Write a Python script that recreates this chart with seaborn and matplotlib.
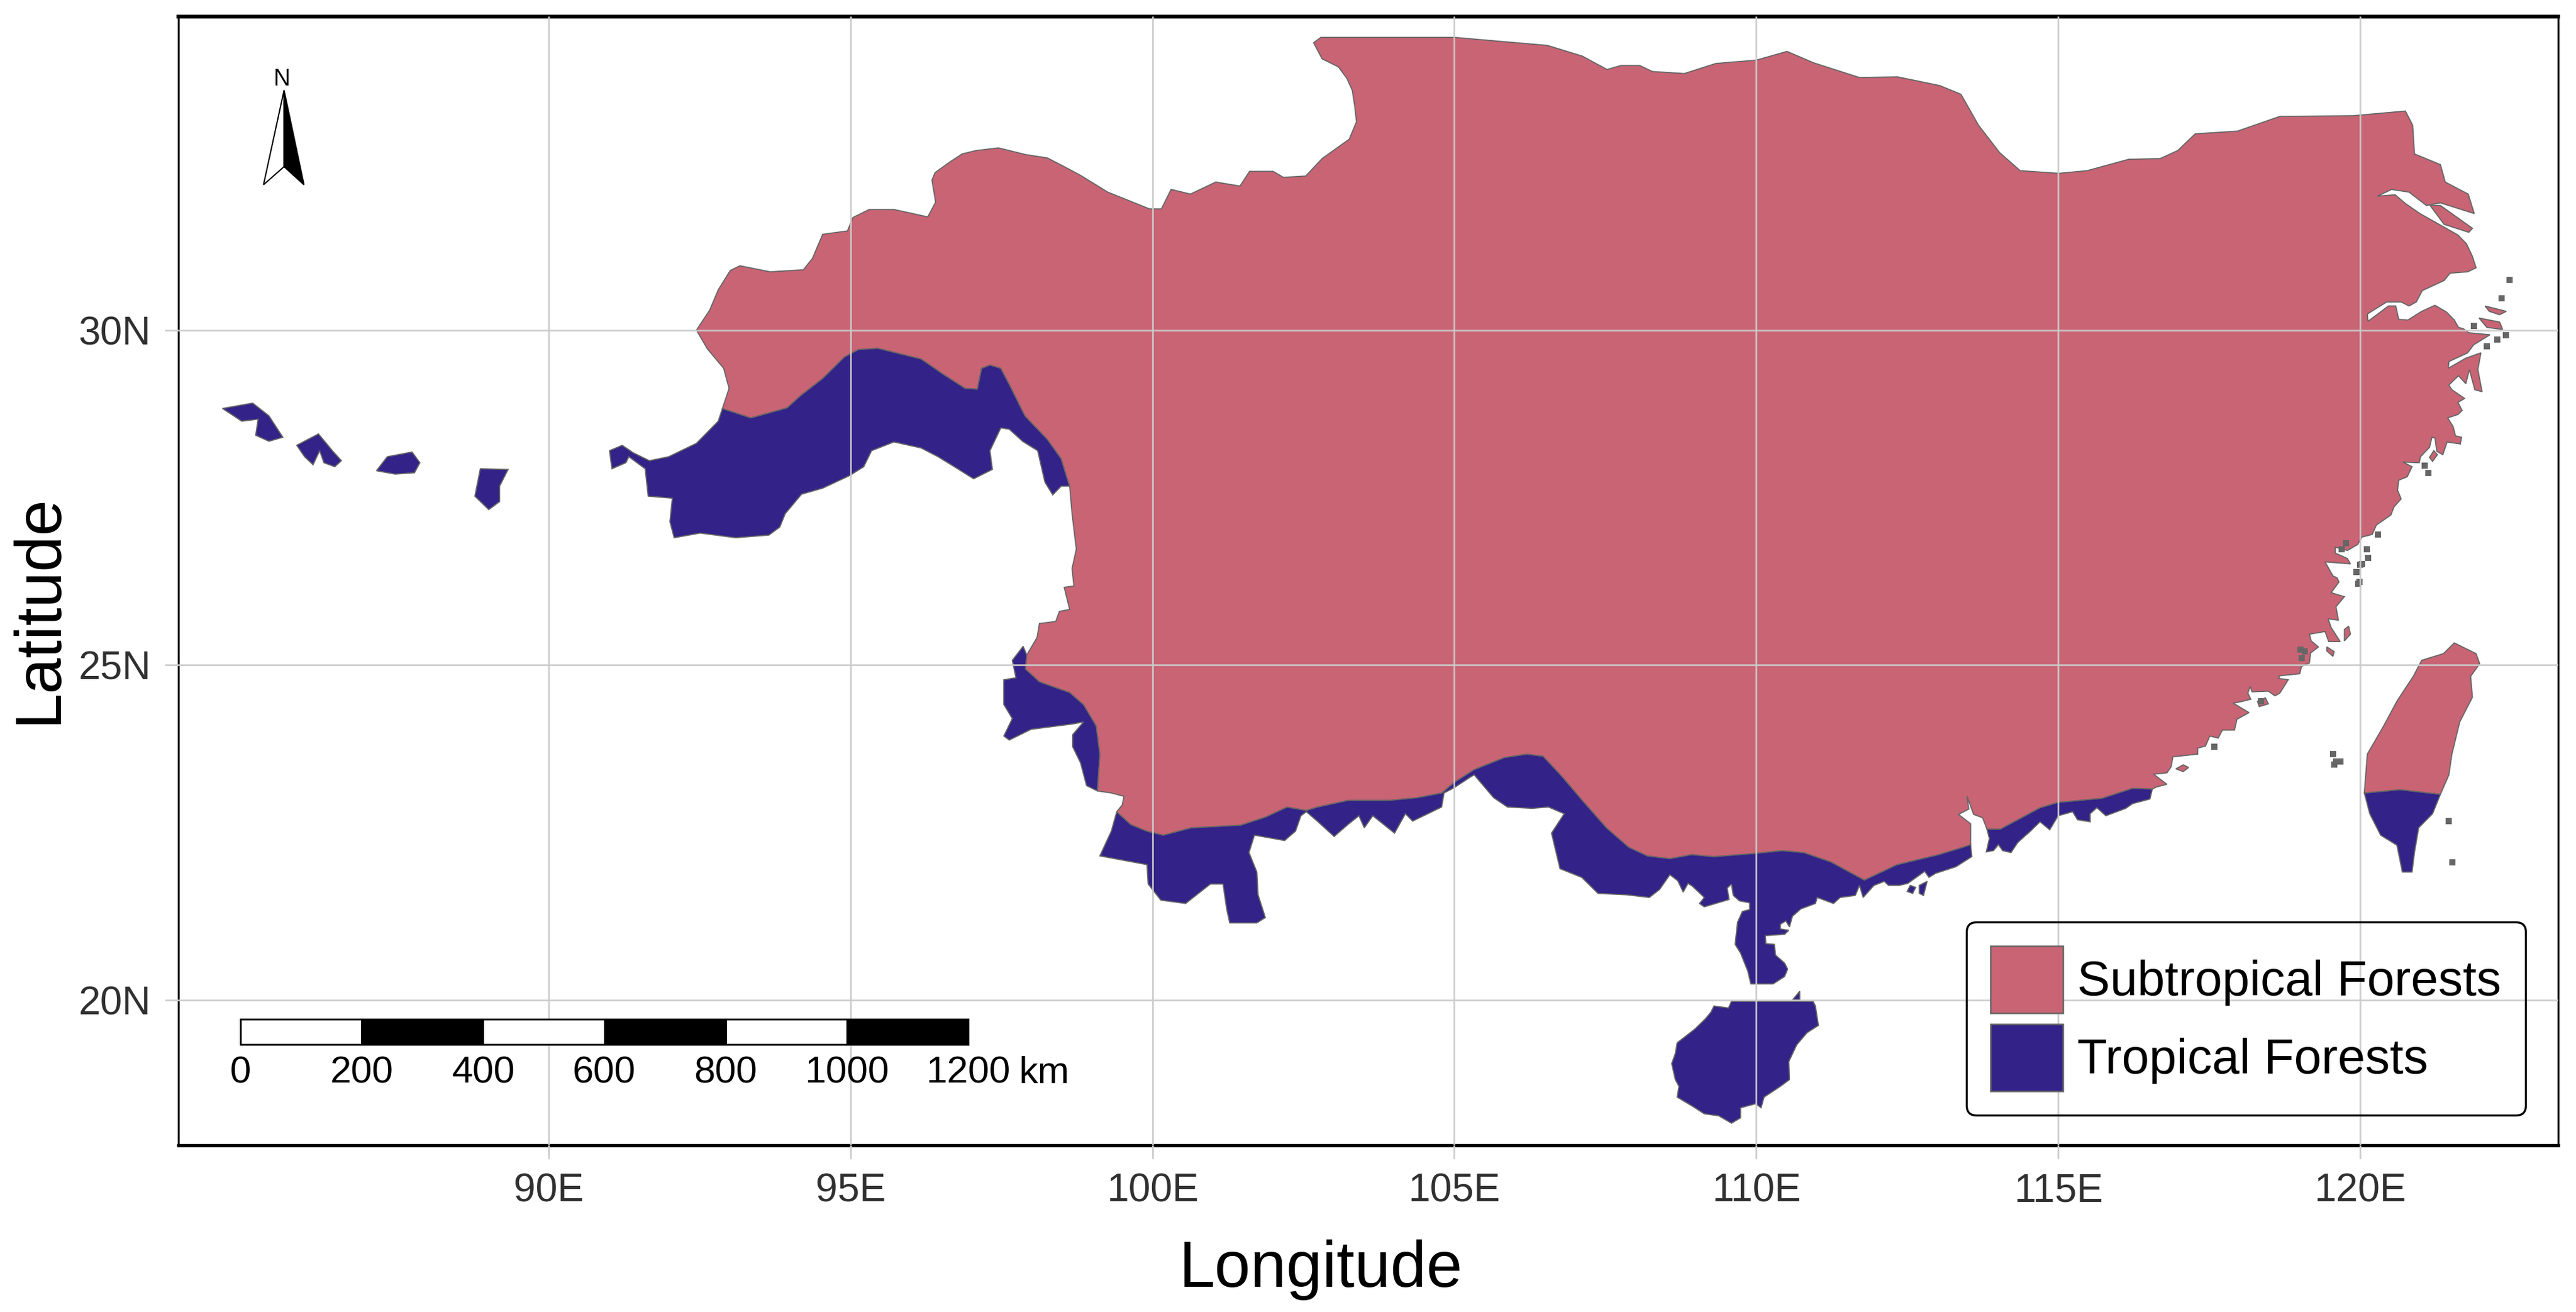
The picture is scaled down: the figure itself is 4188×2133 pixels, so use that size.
import matplotlib
matplotlib.use("Agg")
import matplotlib.pyplot as plt
from matplotlib.patches import Patch
import seaborn as sns

# outlines, (lon, lat)
subtropical_main = [
    (92.45,30.00),(92.67,30.30),(92.81,30.60),(93.01,30.89),(93.17,30.96),(93.67,30.87),(94.22,30.90),
    (94.37,31.07),(94.54,31.43),(94.95,31.48),(95.04,31.68),(95.31,31.80),(95.72,31.80),(96.28,31.69),
    (96.41,31.91),(96.35,32.24),(96.40,32.35),(96.63,32.50),(96.85,32.63),(97.08,32.68),(97.45,32.72),
    (97.90,32.62),(98.26,32.57),(98.54,32.44),(98.81,32.31),(99.26,32.06),
    (99.95,31.81),(100.15,31.81),(100.31,32.10),(100.63,32.03),(101.05,32.21),(101.45,32.15),(101.61,32.37),
    (102.00,32.37),(102.17,32.28),(102.54,32.30),(102.81,32.56),(103.26,32.85),(103.38,33.11),(103.35,33.35),
    (103.31,33.58),(103.22,33.76),(103.08,33.93),(102.81,34.05),(102.67,34.29),(102.79,34.37),(105.00,34.37),
    (105.38,34.34),(106.54,34.25),
    (107.12,34.09),(107.53,33.89),(107.76,33.95),(108.07,33.95),(108.28,33.86),(108.81,33.83),(109.33,33.98),
    (110.00,34.03),(110.51,34.16),(110.95,33.99),(111.71,33.77),(112.34,33.78),(113.04,33.65),(113.39,33.52),
    (113.68,33.06),(114.03,32.65),(114.37,32.38),(115.01,32.34),(115.48,32.38),(116.17,32.55),(116.69,32.56),
    (116.98,32.68),(117.27,32.93),(117.97,32.97),(118.67,33.19),(119.88,33.20),(120.75,33.27),(120.87,33.06),
    (120.90,32.63),(121.33,32.47),(121.41,32.21),(121.79,32.03),(121.89,31.74),(121.33,31.90),(121.10,31.86),
    (120.81,32.06),(120.52,32.10),(120.29,32.00),(120.58,32.02),(120.75,31.89),(120.99,31.74),(121.62,31.42),
    (121.76,31.29),(121.86,31.10),(121.92,30.93),(121.78,30.87),(121.49,30.85),(121.39,30.74),(121.03,30.59),
    (120.93,30.42),(120.81,30.36),(120.68,30.42),(120.44,30.42),(120.12,30.24),(120.13,30.13),(120.47,30.36),
    (120.59,30.36),(120.64,30.16),(120.79,30.15),(121.02,30.28),(121.24,30.37),(121.43,30.27),(121.56,30.15),
    (121.63,30.04),(121.71,30.02),(121.80,29.96),(122.15,29.93),(121.88,29.78),(121.78,29.66),(121.47,29.53),
    (121.46,29.43),(121.75,29.58),(122.00,29.66),(121.95,29.41),(122.02,29.08),(121.90,29.11),(121.81,29.41),
    (121.75,29.20),(121.63,29.32),(121.47,29.18),(121.52,29.11),(121.73,28.98),(121.62,28.92),(121.69,28.80),
    (121.62,28.74),(121.45,28.69),(121.54,28.56),(121.58,28.42),(121.68,28.40),(121.66,28.30),(121.44,28.33),
    (121.37,28.14),(121.27,28.19),(121.24,28.39),(121.19,28.40),(121.15,28.25),(121.00,28.11),(120.98,28.02),
    (120.71,28.03),(120.86,27.96),(120.78,27.81),(120.64,27.76),(120.62,27.61),(120.68,27.48),(120.56,27.36),
    (120.51,27.24),(120.27,27.09),(120.20,26.95),(120.03,26.91),(119.96,26.80),(119.79,26.71),(119.59,26.76),
    (119.59,26.67),(119.79,26.59),(119.84,26.51),(119.42,26.54),(119.55,26.33),(119.62,26.30),(119.65,26.24),
    (119.52,26.08),(119.74,26.02),(119.60,25.87),(119.64,25.67),(119.47,25.69),(119.52,25.56),(119.67,25.35),
    (119.48,25.35),(119.42,25.50),(119.16,25.46),(119.19,25.36),(119.31,25.27),(119.18,25.18),(119.16,25.03),
    (119.03,24.98),(119.00,24.87),(118.67,24.84),(118.65,24.80),(118.81,24.78),(118.67,24.58),(118.59,24.54),
    (118.48,24.61),(118.21,24.60),(118.18,24.68),(118.14,24.58),(118.19,24.49),(118.06,24.46),(117.90,24.43),
    (118.16,24.29),(117.96,24.19),(117.92,24.03),(117.72,24.03),(117.65,23.91),(117.51,23.94),(117.44,23.79),
    (117.31,23.76),(117.31,23.67),(116.90,23.63),(116.87,23.48),(116.80,23.39),(116.58,23.37),(116.80,23.22),
    (116.63,23.18),(116.56,23.15),(116.23,23.16),(115.72,23.01),(115.00,22.95),(114.70,22.87),(114.04,22.55),
    (113.82,22.55),(113.75,22.72),(113.60,22.77),(113.49,23.04),(113.52,22.85),(113.35,22.77),(113.55,22.63),
    (113.55,22.32),(113.42,22.28),(113.02,22.17),(112.33,22.02),(111.79,21.79),(111.24,22.06),(110.79,22.20),
    (110.43,22.23),
    (110.00,22.19),(109.30,22.14),(108.93,22.17),(108.57,22.11),(108.20,22.15),(107.89,22.28),(107.52,22.57),
    (107.11,22.99),(106.79,23.33),(106.47,23.64),(106.20,23.67),(105.83,23.62),(105.33,23.44),(105.00,23.25),
    (104.79,23.09),(104.38,23.02),(103.92,22.98),(103.24,22.98),(102.73,22.88),(102.55,22.83),(102.23,22.88),
    (101.87,22.73),(101.46,22.61),(100.64,22.57),(100.18,22.46),(99.91,22.52),(99.64,22.62),(99.41,22.81),
    (99.50,22.91),(99.53,23.04),(99.32,23.09),(99.09,23.12),(99.13,23.67),(99.07,24.09),(98.86,24.41),
    (98.63,24.59),(98.13,24.75),(97.90,24.94),(97.92,25.15),(98.09,25.41),(98.13,25.62),(98.40,25.65),
    (98.46,25.80),(98.63,25.83),(98.54,26.16),(98.70,26.18),(98.67,26.44),(98.74,26.73),(98.67,27.26),
    (98.63,27.67),(98.49,28.08),(98.26,28.37),(97.89,28.72),(97.63,29.19),(97.49,29.43),(97.31,29.48),
    (97.17,29.43),(97.10,29.12),(96.90,29.13),(96.54,29.34),(96.17,29.57),(95.81,29.65),(95.45,29.73),
    (95.13,29.71),(94.90,29.60),(94.54,29.28),(94.17,29.02),(93.95,28.84),(93.35,28.69),(92.88,28.83),
    (92.99,29.13),(92.90,29.43),(92.63,29.72),
]
chongming = [(121.16,31.86),(121.33,31.86),(121.86,31.52),(121.80,31.46),(121.39,31.58)]
zhoushan = [(121.97,30.18),(122.31,30.12),(122.36,30.01),(122.10,30.04)]
daishan = [(122.07,30.36),(122.42,30.28),(122.31,30.23),(122.14,30.28)]
yuhuan = [(121.22,28.20),(121.28,28.14),(121.20,28.04),(121.15,28.10)]
fuqing_isle = [(119.74,25.53),(119.81,25.58),(119.84,25.46),(119.74,25.36)]
jinmen_isle = [(118.30,24.46),(118.43,24.51),(118.48,24.42),(118.33,24.38)]
dongshan_isle = [(116.95,23.45),(117.07,23.51),(117.16,23.47),(117.07,23.41)]
pingtan_isle = [(119.45,25.27),(119.57,25.20),(119.55,25.13),(119.45,25.21)]
taiwan_north = [
    (121.56,25.33),(121.92,25.17),(121.98,25.02),(121.83,24.83),(121.86,24.52),(121.65,24.15),(121.52,23.67),
    (121.47,23.36),(121.33,23.07),(120.66,23.14),(120.07,23.09),(120.12,23.67),(120.39,24.09),(120.61,24.46),
    (120.88,24.83),(121.02,25.07),(121.38,25.17),
]

tropical_himalaya = [
    (92.88,28.83),(92.81,28.64),(92.45,28.31),(91.99,28.11),(91.67,28.05),(91.40,28.17),(91.22,28.28),
    (91.01,28.20),(91.05,27.93),(91.28,28.02),(91.33,28.11),(91.60,27.93),(91.65,27.52),(92.05,27.49),
    (92.01,27.14),(92.08,26.90),(92.51,26.97),(93.10,26.90),(93.65,26.94),(93.83,27.06),(93.92,27.26),
    (94.19,27.55),(94.54,27.64),(94.99,27.83),(95.22,27.96),(95.35,28.20),(95.72,28.33),(96.17,28.24),
    (96.45,28.11),(96.72,27.96),(97.04,27.78),(97.35,27.92),(97.31,28.20),(97.49,28.54),(97.63,28.52),
    (97.85,28.34),(98.10,28.20),(98.22,27.73),(98.35,27.54),(98.49,27.67),(98.63,27.67),(98.49,28.08),
    (98.26,28.37),(97.89,28.72),(97.63,29.19),(97.49,29.43),(97.31,29.48),(97.17,29.43),(97.10,29.12),
    (96.90,29.13),(96.54,29.34),(96.17,29.57),(95.81,29.65),(95.45,29.73),(95.13,29.71),(94.90,29.60),
    (94.54,29.28),(94.17,29.02),(93.95,28.84),(93.35,28.69),
]
tropical_isle1 = [(84.60,28.83),(85.10,28.91),(85.37,28.72),(85.60,28.40),(85.37,28.34),(85.15,28.43),(85.19,28.67),(84.92,28.64)]
tropical_isle2 = [(85.83,28.28),(86.19,28.45),(86.42,28.20),(86.57,28.05),(86.46,27.96),(86.28,28.02),(86.21,28.20),(86.10,27.99),(85.96,28.11)]
tropical_isle3 = [(87.15,27.90),(87.33,28.11),(87.74,28.18),(87.87,28.02),(87.78,27.87),(87.46,27.85)]
tropical_isle4 = [(88.87,27.93),(89.33,27.92),(89.19,27.67),(89.19,27.44),(89.01,27.32),(88.78,27.52)]
tropical_west = [
    (97.86,25.28),(97.68,25.07),(97.74,24.81),(97.54,24.78),(97.54,24.41),(97.68,24.20),(97.54,23.94),
    (97.63,23.88),(97.99,24.04),(98.68,24.12),(98.86,24.15),(98.68,23.96),(98.68,23.78),(98.81,23.54),
    (98.91,23.20),(99.09,23.12),(99.13,23.67),(99.07,24.09),(98.86,24.41),(98.63,24.59),(98.13,24.75),
    (97.90,24.94),(97.92,25.15),
]
tropical_south = [
    (99.41,22.81),(99.32,22.52),(99.13,22.15),(99.91,22.02),(99.93,21.73),(100.14,21.49),(100.55,21.44),
    (100.96,21.73),(101.17,21.73),(101.23,21.36),(101.28,21.15),(101.73,21.15),(101.87,21.23),(101.75,21.57),
    (101.73,21.91),(101.60,22.20),(101.69,22.46),(102.19,22.38),(102.37,22.52),(102.46,22.75),(102.55,22.81),
    (102.73,22.67),(103.01,22.44),(103.24,22.62),(103.42,22.75),(103.51,22.57),(103.65,22.75),(104.01,22.49),
    (104.19,22.78),(104.31,22.67),(104.79,22.88),(104.83,23.09),(105.00,23.17),(105.27,23.33),(105.33,23.36),
    (105.65,23.02),(105.88,22.88),(106.29,22.86),(106.56,22.88),(106.82,22.78),(106.61,22.49),(106.75,21.96),
    (107.11,21.83),(107.38,21.59),(107.85,21.57),(108.23,21.53),(108.40,21.65),(108.57,21.87),(108.70,21.78),
    (108.79,21.61),(108.87,21.74),(108.94,21.70),(109.14,21.53),(109.06,21.44),(109.14,21.39),(109.55,21.50),
    (109.52,21.67),(109.59,21.73),(109.62,21.56),(109.72,21.48),(109.89,21.45),(109.89,21.35),(109.77,21.32),
    (109.69,21.16),(109.65,20.83),(109.74,20.70),(109.86,20.43),(109.91,20.24),(110.28,20.24),(110.47,20.35),
    (110.52,20.46),(110.47,20.55),(110.32,20.67),(110.30,20.83),(110.16,20.84),(110.15,20.96),(110.47,20.98),
    (110.54,21.04),(110.40,21.06),(110.40,21.13),(110.49,21.18),(110.55,21.09),(110.60,21.25),(110.74,21.36),
    (110.98,21.44),(111.01,21.53),(111.28,21.44),(111.39,21.53),(111.64,21.56),(111.71,21.71),(111.77,21.53),
    (111.95,21.71),(112.12,21.77),(112.19,21.71),(112.37,21.71),(112.51,21.74),(112.79,21.92),(112.86,21.83),
    (112.97,21.89),(113.31,21.99),(113.57,22.14),(113.55,22.32),(113.42,22.28),(113.02,22.17),(112.33,22.02),
    (111.79,21.79),(111.24,22.06),(110.79,22.20),
    (110.43,22.23),(110.00,22.19),(109.30,22.14),(108.93,22.17),(108.57,22.11),(108.20,22.15),(107.89,22.28),
    (107.52,22.57),(107.11,22.99),(106.79,23.33),(106.47,23.64),(106.20,23.67),(105.83,23.62),(105.33,23.44),
    (105.00,23.25),(104.79,23.09),(104.38,23.02),(103.92,22.98),(103.24,22.98),(102.73,22.88),(102.55,22.83),
    (102.23,22.88),(101.87,22.73),(101.46,22.61),(100.64,22.57),(100.18,22.46),(99.91,22.52),(99.64,22.62),
]
tropical_strip = [
    (113.82,22.55),(113.86,22.41),(113.81,22.21),(113.93,22.23),(114.01,22.32),(114.08,22.23),(114.22,22.20),
    (114.33,22.35),(114.44,22.44),(114.53,22.51),(114.70,22.66),(114.86,22.54),(115.00,22.75),(115.24,22.81),
    (115.32,22.69),(115.53,22.66),(115.53,22.78),(115.64,22.87),(115.79,22.75),(116.12,22.86),(116.23,22.93),
    (116.52,23.00),(116.56,23.15),(116.23,23.16),(115.72,23.01),(115.00,22.95),(114.70,22.87),(114.04,22.55),
]
tropical_isle5 = [(112.50,21.62),(112.55,21.71),(112.64,21.68),(112.59,21.59)]
tropical_isle6 = [(112.70,21.71),(112.83,21.77),(112.77,21.56),(112.70,21.59)]
tropical_isle7 = [(113.10,22.17),(113.28,22.26),(113.35,22.17),(113.17,21.98)]
tropical_isle8 = [(110.60,20.00),(110.72,20.13),(110.72,20.00)]
hainan = [
    (109.59,19.98),(109.54,19.88),(109.30,19.91),(109.25,19.82),(109.16,19.72),(108.99,19.57),(108.69,19.36),
    (108.66,19.20),(108.60,19.05),(108.66,18.81),(108.72,18.71),(108.69,18.55),(108.95,18.41),(109.14,18.30),
    (109.38,18.27),(109.59,18.16),(109.74,18.24),(109.74,18.39),(109.99,18.45),(110.08,18.39),(110.13,18.55),
    (110.40,18.71),(110.55,18.81),(110.54,19.08),(110.67,19.33),(110.84,19.51),(111.03,19.62),(110.98,19.91),
    (110.94,19.98),(110.01,19.98),
]
taiwan_south = [
    (120.07,23.09),(120.66,23.14),(121.33,23.07),(121.20,22.78),(120.97,22.57),(120.90,22.20),(120.86,21.91),
    (120.70,21.91),(120.61,22.31),(120.34,22.46),(120.16,22.78),
]

islet_lon = [122.48,122.34,121.88,122.41,122.27,122.10,121.13,121.07,120.30,120.13,120.03,119.94,119.99,119.69,119.77,
             120.11,120.00,119.97,119.01,119.03,119.08,118.36,117.59,119.55,119.60,119.57,119.67,121.47,121.53]
islet_lat = [30.75,30.47,30.06,29.92,29.86,29.76,27.87,27.98,26.95,26.60,26.51,26.39,26.24,26.73,26.82,
             26.73,26.50,26.21,25.23,25.10,25.20,24.46,23.78,23.67,23.56,23.51,23.56,22.67,22.05]

lon_ticks = [90, 95, 100, 105, 110, 115, 120]
lon_labels = ["90E", "95E", "100E", "105E", "110E", "115E", "120E"]
lat_ticks = [20, 25, 30]
lat_labels = ["20N", "25N", "30N"]

scale_km = [0, 200, 400, 600, 800, 1000, 1200]

sns.set_theme(style="white")
plt.rcParams["font.family"] = ["Liberation Sans", "DejaVu Sans"]

W, H = 4188, 2133
fig = plt.figure(figsize=(W / 300, H / 300), dpi=300)
ax = fig.add_axes([290 / W, 1 - 1862 / H, 3869 / W, 1835 / H])

PINK = "#C96474"
NAVY = "#332288"
EDGE = "#666666"

for poly in [tropical_himalaya, tropical_isle1, tropical_isle2, tropical_isle3, tropical_isle4,
             tropical_isle5, tropical_isle6, tropical_isle7, tropical_isle8,
             tropical_west, tropical_south, tropical_strip, hainan, taiwan_south]:
    ax.fill(*zip(*poly), facecolor=NAVY, edgecolor=EDGE, linewidth=0.45, zorder=1)
for poly in [subtropical_main, chongming, zhoushan, daishan, yuhuan, fuqing_isle, jinmen_isle,
             dongshan_isle, pingtan_isle, taiwan_north]:
    ax.fill(*zip(*poly), facecolor=PINK, edgecolor=EDGE, linewidth=0.45, zorder=1)

sns.scatterplot(x=islet_lon, y=islet_lat, color=EDGE, s=6, linewidth=0, marker="s", zorder=1, ax=ax)

ax.set_xlim(83.87, 123.28)
ax.set_ylim(17.83, 34.68)
ax.set_xticks(lon_ticks, lon_labels)
ax.set_yticks(lat_ticks, lat_labels)
ax.set_axisbelow(False)
ax.grid(True, color="#CBCBCB", alpha=0.95, linewidth=0.65)
ax.tick_params(length=5.2, width=0.65, color="#CCCCCC", labelcolor="#303030", labelsize=15.4, pad=5.5,
               bottom=True, left=True)

for side, lw in [("top", 1.5), ("bottom", 1.3), ("left", 0.75), ("right", 0.75)]:
    ax.spines[side].set_visible(True)
    ax.spines[side].set_color("black")
    ax.spines[side].set_linewidth(lw)

ax.set_xlabel("Longitude", fontsize=25.2, color="black", va="center")
ax.set_ylabel("Latitude", fontsize=25.2, color="black", va="center")
ax.xaxis.set_label_coords((2147 - 290) / 3869, -(2064 - 1862) / 1835)
ax.yaxis.set_label_coords(-(290 - 64) / 3869, (1862 - 990) / 1835)

# scale bar
km_per_deg = 1200 / (96.95 - 84.90)
for i in range(len(scale_km) - 1):
    x0 = 84.90 + scale_km[i] / km_per_deg
    x1 = 84.90 + scale_km[i + 1] / km_per_deg
    ax.fill([x0, x1, x1, x0], [19.34, 19.34, 19.71, 19.71], facecolor="white" if i % 2 == 0 else "black",
            edgecolor="black", linewidth=0.7, zorder=3)
for km in scale_km:
    ax.text(84.90 + km / km_per_deg, 18.90, str(km), ha="center", va="center", fontsize=14.8, color="black", zorder=3)
ax.text(97.79, 18.90, "km", ha="left", va="center", fontsize=14.8, color="black", zorder=3)

# north arrow
ax.fill([85.62, 85.28, 85.62], [33.58, 32.17, 32.44], facecolor="white", edgecolor="black", linewidth=0.5, zorder=3)
ax.fill([85.62, 85.95, 85.62], [33.58, 32.17, 32.44], facecolor="black", edgecolor="black", linewidth=0.5, zorder=3)
ax.text(85.58, 33.74, "N", ha="center", va="center", fontsize=9, color="black", zorder=3)

handles = [Patch(facecolor=PINK, edgecolor=EDGE, linewidth=0.6, label="Subtropical Forests"),
           Patch(facecolor=NAVY, edgecolor=EDGE, linewidth=0.6, label="Tropical Forests")]
leg = ax.legend(handles=handles, loc="lower left", bbox_to_anchor=((3197 - 290) / 3869, (1862 - 1813) / 1835),
                borderaxespad=0, fontsize=19.2, handlelength=1.475, handleheight=1.72, handletextpad=0.29,
                labelspacing=0.225, borderpad=0.49, labelcolor="black", edgecolor="black", facecolor="none",
                framealpha=1, fancybox=True)
leg.get_frame().set_linewidth(0.8)
leg.set_zorder(5)

fig.savefig("out.png", dpi=300, facecolor="white")
